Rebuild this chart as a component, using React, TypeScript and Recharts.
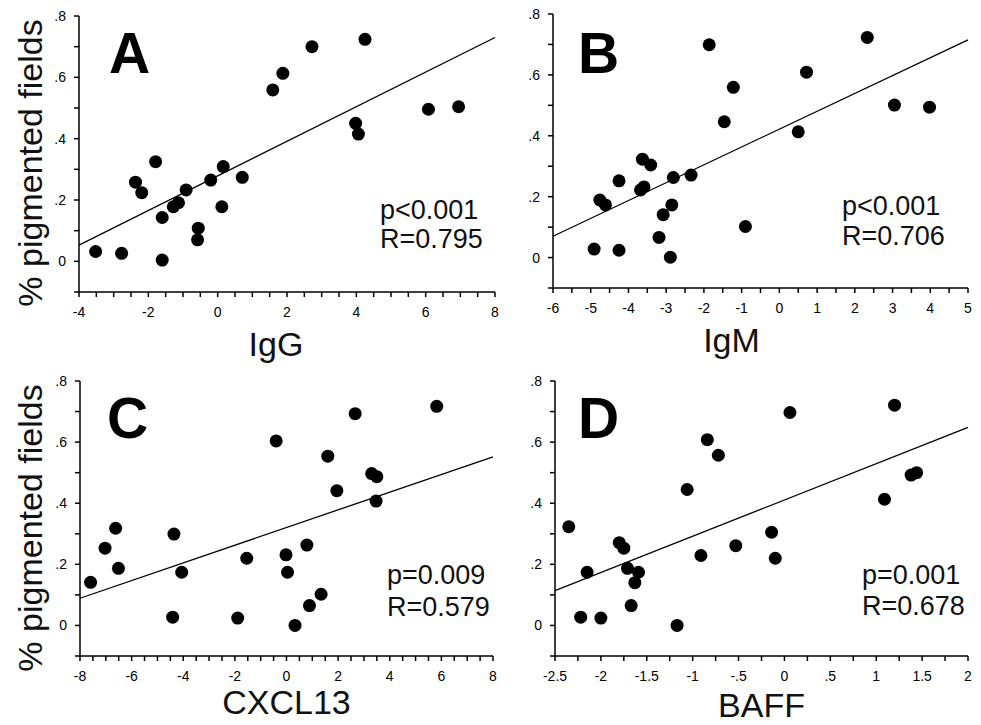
import React from 'react';
import { ScatterChart, Scatter, XAxis, YAxis, ReferenceLine, Label } from 'recharts';

// [x, % pigmented fields]
const iggPoints: [number, number][] = [
  [-3.52, 0.032], [-2.77, 0.026], [-1.6, 0.004], [-2.37, 0.258], [-2.19, 0.224],
  [-1.79, 0.325], [-1.6, 0.143], [-1.28, 0.178], [-1.13, 0.191], [-0.91, 0.233],
  [-0.56, 0.108], [-0.58, 0.07], [-0.2, 0.265], [0.16, 0.309], [0.12, 0.178],
  [0.71, 0.274], [1.59, 0.559], [1.88, 0.613], [2.72, 0.7], [4.25, 0.724],
  [3.98, 0.45], [4.06, 0.415], [6.08, 0.496], [6.95, 0.504],
];
const igmPoints: [number, number][] = [
  [-4.91, 0.028], [-4.25, 0.024], [-2.89, 0.001], [-4.76, 0.189], [-4.61, 0.173],
  [-4.25, 0.252], [-3.63, 0.323], [-3.41, 0.304], [-3.68, 0.222], [-3.59, 0.232],
  [-2.81, 0.263], [-2.34, 0.271], [-2.85, 0.173], [-3.08, 0.141], [-3.19, 0.066],
  [-1.86, 0.699], [-1.46, 0.446], [-1.22, 0.559], [-0.9, 0.102], [0.5, 0.413],
  [0.72, 0.609], [2.33, 0.723], [3.05, 0.501], [3.98, 0.494],
];
const cxcl13Points: [number, number][] = [
  [-7.59, 0.141], [-7.03, 0.253], [-6.62, 0.318], [-6.51, 0.187], [-4.36, 0.299],
  [-4.41, 0.027], [-4.06, 0.174], [-1.54, 0.22], [-1.89, 0.024], [-0.4, 0.604],
  [-0.02, 0.231], [0.04, 0.174], [0.33, 0.0], [0.79, 0.263], [0.89, 0.065],
  [1.34, 0.102], [1.6, 0.554], [1.95, 0.441], [2.66, 0.693], [3.3, 0.497],
  [3.5, 0.487], [3.47, 0.407], [5.82, 0.717],
];
const baffPoints: [number, number][] = [
  [-2.35, 0.323], [-2.22, 0.027], [-2.0, 0.024], [-2.15, 0.174], [-1.8, 0.271],
  [-1.75, 0.253], [-1.71, 0.187], [-1.59, 0.174], [-1.63, 0.14], [-1.67, 0.065],
  [-1.17, 0.0], [-1.06, 0.445], [-0.91, 0.229], [-0.84, 0.608], [-0.72, 0.557],
  [-0.53, 0.261], [-0.14, 0.305], [-0.1, 0.22], [0.06, 0.697], [1.09, 0.413],
  [1.2, 0.721], [1.38, 0.492], [1.44, 0.5],
];

// regression line end points
const iggFit: [number, number][] = [[-4, 0.053], [8, 0.73]];
const igmFit: [number, number][] = [[-6, 0.07], [5, 0.715]];
const cxcl13Fit: [number, number][] = [[-8, 0.089], [8, 0.552]];
const baffFit: [number, number][] = [[-2.5, 0.114], [2, 0.648]];

// labelled x ticks
const iggTicks = [-4, -2, 0, 2, 4, 6, 8];
const igmTicks = [-6, -5, -4, -3, -2, -1, 0, 1, 2, 3, 4, 5];
const cxcl13Ticks = [-8, -6, -4, -2, 0, 2, 4, 6, 8];
const baffTicks = [-2.5, -2, -1.5, -1, -0.5, 0, 0.5, 1, 1.5, 2];

const yTicks = [-0.1, 0, 0.1, 0.2, 0.3, 0.4, 0.5, 0.6, 0.7, 0.8];
const yLabelTicks = [0, 0.2, 0.4, 0.6, 0.8];

const FONT = '"Liberation Sans", Arial, Helvetica, sans-serif';

const minorTicks = (min: number, max: number, step: number) => {
  const out: number[] = [];
  const n = Math.round((max - min) / step);
  for (let i = 0; i <= n; i++) out.push(Math.round((min + i * step) * 1000) / 1000);
  return out;
};

const fmt = (labels: number[]) => (v: number) =>
  labels.some(t => Math.abs(t - v) < 1e-6) ? String(v).replace(/^(-?)0\./, '$1.') : '';

const Dot = (p: any) => <circle cx={p.cx} cy={p.cy} r={6.5} fill="#000" />;

interface PanelProps {
  chartLeft: number;
  chartTop: number;
  plotLeft: number;
  plotTop: number;
  plotW: number;
  plotH: number;
  points: [number, number][];
  fit: [number, number][];
  labelTicks: number[];
  step: number;
  xTitle: string;
  xTitleDx: number;
  xTitleOffset: number;
}

const Panel: React.FC<PanelProps> = (p) => {
  const yAxisW = p.plotLeft - p.chartLeft;
  const top = p.plotTop - p.chartTop;
  const width = yAxisW + p.plotW + 12;
  const height = top + p.plotH + 72;
  const lo = p.labelTicks[0];
  const hi = p.labelTicks[p.labelTicks.length - 1];
  const data = p.points.map(([x, y]) => ({ x, y }));
  const axisStyle = { stroke: '#000', strokeWidth: 1.5 };
  const tickStyle = { fontSize: 14, fill: '#000', fontFamily: FONT };

  return (
    <div style={{ position: 'absolute', left: p.chartLeft, top: p.chartTop }}>
      <ScatterChart width={width} height={height} margin={{ top, right: 12, left: 0, bottom: 0 }}>
        <XAxis
          type="number"
          dataKey="x"
          domain={[lo, hi]}
          ticks={minorTicks(lo, hi, p.step)}
          interval={0}
          tickFormatter={fmt(p.labelTicks)}
          height={72}
          tickSize={5}
          tickMargin={10}
          axisLine={axisStyle}
          tickLine={axisStyle}
          tick={tickStyle}
        >
          <Label
            value={p.xTitle}
            position="insideTop"
            offset={p.xTitleOffset}
            dx={p.xTitleDx}
            style={{ fontSize: 34, fill: '#111', fontFamily: FONT }}
          />
        </XAxis>
        <YAxis
          type="number"
          dataKey="y"
          domain={[-0.1, 0.8]}
          ticks={yTicks}
          interval={0}
          tickFormatter={fmt(yLabelTicks)}
          width={yAxisW}
          tickSize={5}
          tickMargin={8}
          axisLine={axisStyle}
          tickLine={axisStyle}
          tick={tickStyle}
        />
        <ReferenceLine
          segment={[{ x: p.fit[0][0], y: p.fit[0][1] }, { x: p.fit[1][0], y: p.fit[1][1] }]}
          stroke="#000"
          strokeWidth={1.3}
        />
        <Scatter data={data} shape={Dot} isAnimationActive={false} />
      </ScatterChart>
    </div>
  );
};

const letter = { fontSize: 57, fontWeight: 700, fill: '#000', fontFamily: FONT };
const stat = { fontSize: 27, fill: '#111', fontFamily: FONT };
const yTitle = { fontSize: 34, fill: '#111', fontFamily: FONT };

export default function App() {
  return (
    <div style={{ position: 'absolute', left: 0, top: 0, width: 981, height: 725, background: '#fff' }}>
      <Panel chartLeft={0} chartTop={0} plotLeft={79} plotTop={16} plotW={416} plotH={276}
        points={iggPoints} fit={iggFit} labelTicks={iggTicks} step={0.5}
        xTitle="IgG" xTitleDx={-11} xTitleOffset={40} />
      <Panel chartLeft={500} chartTop={0} plotLeft={553} plotTop={14} plotW={415} plotH={274}
        points={igmPoints} fit={igmFit} labelTicks={igmTicks} step={0.5}
        xTitle="IgM" xTitleDx={-29} xTitleOffset={40} />
      <Panel chartLeft={0} chartTop={365} plotLeft={80} plotTop={381} plotW={413} plotH={275}
        points={cxcl13Points} fit={cxcl13Fit} labelTicks={cxcl13Ticks} step={0.5}
        xTitle="CXCL13" xTitleDx={0} xTitleOffset={34} />
      <Panel chartLeft={500} chartTop={365} plotLeft={555} plotTop={381} plotW={413} plotH={275}
        points={baffPoints} fit={baffFit} labelTicks={baffTicks} step={0.25}
        xTitle="BAFF" xTitleDx={0} xTitleOffset={37} />
      <svg width={981} height={725} style={{ position: 'absolute', left: 0, top: 0, pointerEvents: 'none' }}>
        <text transform="translate(42,163) rotate(-90)" textAnchor="middle" style={yTitle}>% pigmented fields</text>
        <text transform="translate(42,528) rotate(-90)" textAnchor="middle" style={yTitle}>% pigmented fields</text>
        <text x={109} y={73} style={letter}>A</text>
        <text x={578} y={73} style={letter}>B</text>
        <text x={107} y={438} style={letter}>C</text>
        <text x={578} y={438} style={letter}>D</text>
        <text x={380} y={219} style={stat}>p&lt;0.001</text>
        <text x={380} y={248} style={stat}>R=0.795</text>
        <text x={842} y={215} style={stat}>p&lt;0.001</text>
        <text x={842} y={245} style={stat}>R=0.706</text>
        <text x={387} y={584} style={stat}>p=0.009</text>
        <text x={387} y={616} style={stat}>R=0.579</text>
        <text x={862} y={584} style={stat}>p=0.001</text>
        <text x={862} y={615} style={stat}>R=0.678</text>
      </svg>
    </div>
  );
}
